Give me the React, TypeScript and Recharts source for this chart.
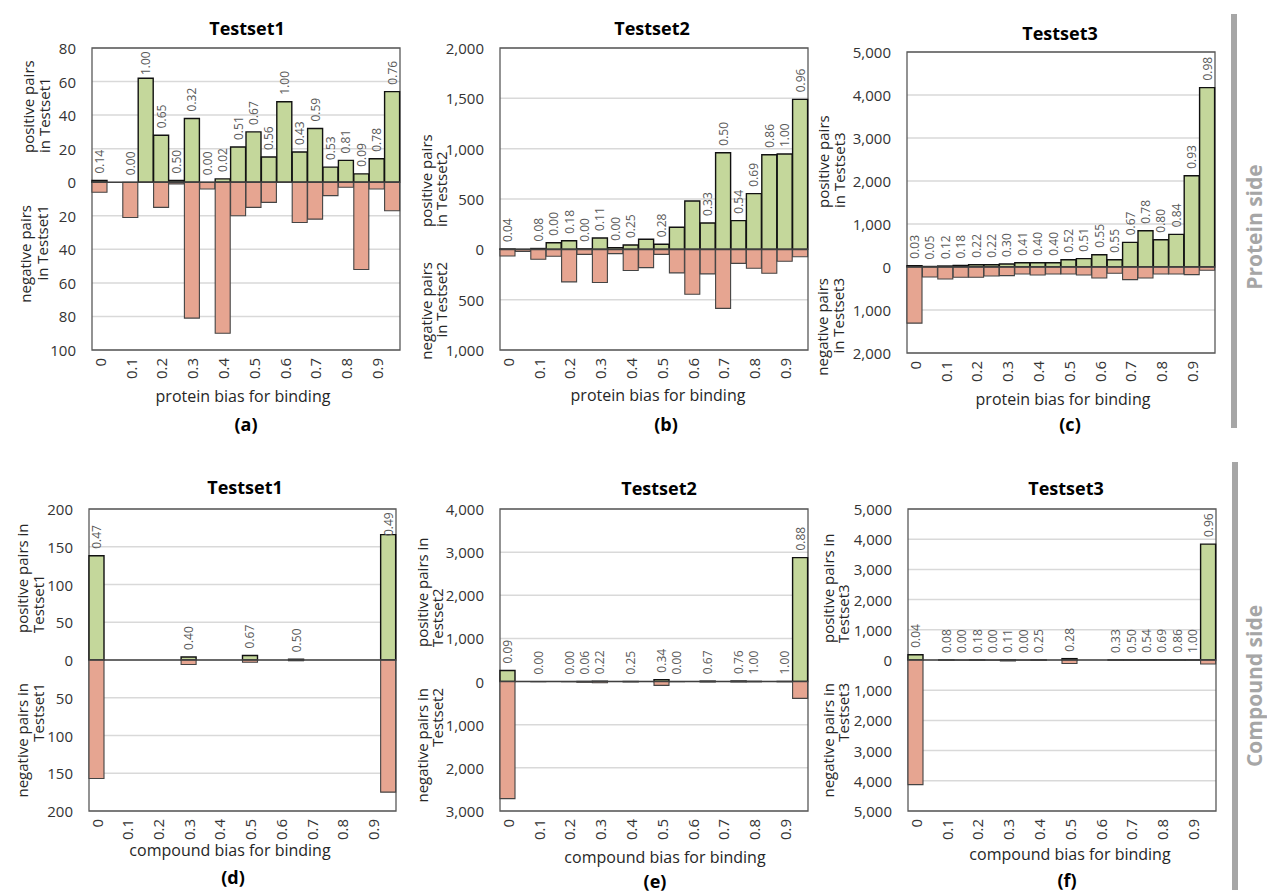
import React from 'react';
import {
  BarChart,
  Bar,
  XAxis,
  YAxis,
  CartesianGrid,
  ReferenceLine,
  ReferenceArea,
  LabelList,
} from 'recharts';

const FONT = "'Open Sans', 'Noto Sans', sans-serif";

// 20 bins of width 0.05, ticks shown every other bin
const bins = ['0', '0.05', '0.1', '0.15', '0.2', '0.25', '0.3', '0.35', '0.4', '0.45',
  '0.5', '0.55', '0.6', '0.65', '0.7', '0.75', '0.8', '0.85', '0.9', '0.95'];
const binTicks = ['0', '0.1', '0.2', '0.3', '0.4', '0.5', '0.6', '0.7', '0.8', '0.9'];

// (a) protein side, Testset1
const posA = [1, 0, 0, 62, 28, 1, 38, 0, 2, 21, 30, 15, 48, 18, 32, 9, 13, 5, 14, 54];
const negA = [6, 0, 21, 0, 15, 1, 81, 4, 90, 20, 15, 12, 0, 24, 22, 8, 3, 52, 4, 17];
const ratioA = ['0.14', null, '0.00', '1.00', '0.65', '0.50', '0.32', '0.00', '0.02', '0.51',
  '0.67', '0.56', '1.00', '0.43', '0.59', '0.53', '0.81', '0.09', '0.78', '0.76'];
const ticksA = [-100, -80, -60, -40, -20, 0, 20, 40, 60, 80];

// (b) protein side, Testset2
const posB = [3, 0, 8, 66, 86, 5, 113, 17, 43, 100, 50, 219, 480, 262, 960, 285, 553, 940, 947, 1490];
const negB = [66, 20, 99, 69, 323, 50, 330, 43, 211, 182, 50, 234, 446, 244, 587, 139, 188, 238, 119, 73];
const ratioB = ['0.04', null, '0.08', '0.00', '0.18', '0.00', '0.11', '0.00', '0.25', null,
  '0.28', null, null, '0.33', '0.50', '0.54', '0.69', '0.86', '1.00', '0.96'];
const ticksB = [-1000, -500, 0, 500, 1000, 1500, 2000];

// (c) protein side, Testset3
const posC = [30, 12, 23, 35, 54, 54, 70, 100, 100, 100, 170, 194, 286, 170, 573, 844, 635, 759, 2121, 4172];
const negC = [1305, 232, 278, 240, 240, 208, 200, 162, 185, 162, 162, 185, 255, 147, 293, 255, 162, 162, 178, 77];
const ratioC = ['0.03', '0.05', '0.12', '0.18', '0.22', '0.22', '0.30', '0.41', '0.40', '0.40',
  '0.52', '0.51', '0.55', '0.55', '0.67', '0.78', '0.80', '0.84', '0.93', '0.98'];
const ticksC = [-2000, -1000, 0, 1000, 2000, 3000, 4000, 5000];

// (d) compound side, Testset1
const posD = [138, 0, 0, 0, 0, 0, 4, 0, 0, 0, 6, 0, 0, 1, 0, 0, 0, 0, 0, 166];
const negD = [157, 0, 0, 0, 0, 0, 6, 0, 0, 0, 3, 0, 0, 1, 0, 0, 0, 0, 0, 175];
const ratioD = ['0.47', null, null, null, null, null, '0.40', null, null, null,
  '0.67', null, null, '0.50', null, null, null, null, null, '0.49'];
const ticksD = [-200, -150, -100, -50, 0, 50, 100, 150, 200];

// (e) compound side, Testset2
const posE = [256, 0, 0, 0, 0, 1, 8, 0, 1, 0, 45, 0, 0, 10, 0, 13, 3, 0, 2, 2874];
const negE = [2714, 0, 3, 0, 3, 15, 28, 0, 3, 0, 88, 2, 0, 5, 0, 4, 0, 0, 0, 390];
const ratioE = ['0.09', null, '0.00', null, '0.00', '0.06', '0.22', null, '0.25', null,
  '0.34', '0.00', null, '0.67', null, '0.76', '1.00', null, '1.00', '0.88'];
const ticksE = [-3000, -2000, -1000, 0, 1000, 2000, 3000, 4000];

// (f) compound side, Testset3
const posF = [172, 0, 1, 0, 2, 0, 4, 0, 1, 0, 45, 0, 0, 3, 2, 7, 9, 6, 3, 3838];
const negF = [4126, 0, 11, 4, 9, 3, 32, 2, 3, 0, 115, 0, 0, 6, 2, 6, 4, 1, 0, 133];
const ratioF = ['0.04', null, '0.08', '0.00', '0.18', '0.00', '0.11', '0.00', '0.25', null,
  '0.28', null, null, '0.33', '0.50', '0.54', '0.69', '0.86', '1.00', '0.96'];
const ticksF = [-5000, -4000, -3000, -2000, -1000, 0, 1000, 2000, 3000, 4000, 5000];

const panels = [
  { id: 'a', pos: posA, neg: negA, ratio: ratioA, ticks: ticksA, plot: [92, 48, 400, 350] },
  { id: 'b', pos: posB, neg: negB, ratio: ratioB, ticks: ticksB, plot: [500, 48, 808, 350] },
  { id: 'c', pos: posC, neg: negC, ratio: ratioC, ticks: ticksC, plot: [907, 52, 1215, 353] },
  { id: 'd', pos: posD, neg: negD, ratio: ratioD, ticks: ticksD, plot: [89, 509, 396, 811] },
  { id: 'e', pos: posE, neg: negE, ratio: ratioE, ticks: ticksE, plot: [500, 509, 808, 811] },
  { id: 'f', pos: posF, neg: negF, ratio: ratioF, ticks: ticksF, plot: [908, 509, 1216, 811] },
];

const texts = [
  { title: 'Testset1', t: [247, 28], xt: 'protein bias for binding', xl: [243, 396], cap: [246, 424],
    pos: ['positive pairs', 'in Testset1'], px: [28, 44], pb: 153,
    neg: ['negative pairs', 'in Testset1'], nx: [25, 42], nt: 205 },
  { title: 'Testset2', t: [652, 28], xt: 'protein bias for binding', xl: [658, 395], cap: [666, 424],
    pos: ['positive pairs', 'in Testset2'], px: [426, 441], pb: 227,
    neg: ['negative pairs', 'in Testset2'], nx: [426, 441], nt: 262 },
  { title: 'Testset3', t: [1060, 33], xt: 'protein bias for binding', xl: [1063, 399], cap: [1070, 424],
    pos: ['positive pairs', 'in Testset3'], px: [823, 839], pb: 208,
    neg: ['negative pairs', 'in Testset3'], nx: [822, 838], nt: 278 },
  { title: 'Testset1', t: [245, 487], xt: 'compound bias for binding', xl: [230, 850], cap: [233, 877],
    pos: ['positive pairs in', 'Testset1'], px: [22, 38], pb: 633,
    neg: ['negative pairs in', 'Testset1'], nx: [22, 38], nt: 683 },
  { title: 'Testset2', t: [659, 488], xt: 'compound bias for binding', xl: [665, 857], cap: [655, 881],
    pos: ['positive pairs in', 'Testset2'], px: [422, 437], pb: 647,
    neg: ['negative pairs in', 'Testset2'], nx: [422, 437], nt: 688 },
  { title: 'Testset3', t: [1066, 488], xt: 'compound bias for binding', xl: [1070, 854], cap: [1067, 880],
    pos: ['positive pairs in', 'Testset3'], px: [828, 843], pb: 643,
    neg: ['negative pairs in', 'Testset3'], nx: [828, 843], nt: 683 },
];

const PAD_L = 90;
const PAD_T = 10;
const PAD_R = 10;
const PAD_B = 40;

const XTick = (props: any) => {
  const { x, y, payload } = props;
  if (!binTicks.includes(String(payload.value))) return null;
  return (
    <text x={x} y={y} transform={`rotate(-90 ${x} ${y})`} textAnchor='end'
      dominantBaseline='central' fontSize={15} fill='#333' fontFamily={FONT}>
      {payload.value}
    </text>
  );
};

const YTick = (props: any) => {
  const { x, y, payload } = props;
  return (
    <text x={x} y={y} textAnchor='end' dominantBaseline='central' fontSize={15}
      fill='#333' fontFamily={FONT}>
      {Math.abs(payload.value).toLocaleString('en-US')}
    </text>
  );
};

// rotated ratio label sitting above the positive bar (or above zero when there is none)
const ratioLabel = (props: any) => {
  const { value } = props;
  if (value === null || value === undefined || value === '') return null;
  const vb = props.viewBox || {};
  const x = Number(props.x ?? vb.x);
  const y = Number(props.y ?? vb.y);
  const w = Number(props.width ?? vb.width);
  const h = Number(props.height ?? vb.height ?? 0);
  const top = Math.min(y, y + h);
  let sy = top - 7;
  const len = 24;
  if (sy - len < PAD_T + 3) sy = PAD_T + 3 + len;
  const cx = x + w / 2;
  return (
    <text x={cx} y={sy} transform={`rotate(-90 ${cx} ${sy})`} textAnchor='start'
      dominantBaseline='central' fontSize={12} fill='#595959' fontFamily={FONT}>
      {value}
    </text>
  );
};

const Panel = ({ p }: { p: typeof panels[number] }) => {
  const [x0, y0, x1, y1] = p.plot;
  const data = bins.map((bin, i) => ({
    bin,
    pos: p.pos[i],
    neg: -p.neg[i],
    ratio: p.pos[i] > 0 ? p.ratio[i] : null,
    ratioZero: p.pos[i] > 0 ? null : p.ratio[i],
  }));
  const lo = p.ticks[0];
  const hi = p.ticks[p.ticks.length - 1];
  return (
    <div style={{ position: 'absolute', left: x0 - PAD_L, top: y0 - PAD_T }}>
      <BarChart
        width={x1 - x0 + PAD_L + PAD_R}
        height={y1 - y0 + PAD_T + PAD_B}
        data={data}
        stackOffset='sign'
        barCategoryGap={0}
        barGap={0}
        margin={{ top: PAD_T, right: PAD_R, left: 0, bottom: 0 }}
      >
        <CartesianGrid vertical={false} stroke='#d9d9d9' strokeWidth={1.5} />
        <XAxis dataKey='bin' interval={0} height={PAD_B} tickSize={0} tickMargin={8}
          axisLine={false} tickLine={false} tick={XTick} />
        <YAxis type='number' domain={[lo, hi]} ticks={p.ticks} width={PAD_L} tickSize={0}
          tickMargin={16} axisLine={false} tickLine={false} tick={YTick} />
        <Bar dataKey='pos' stackId='s' fill='#c4d79b' stroke='#111' strokeWidth={1.4}
          isAnimationActive={false}>
          <LabelList dataKey='ratio' content={ratioLabel} />
        </Bar>
        <Bar dataKey='neg' stackId='s' fill='#e6a591' stroke='#444' strokeWidth={1.1}
          isAnimationActive={false}>
          <LabelList dataKey='ratioZero' content={ratioLabel} />
        </Bar>
        <ReferenceLine y={0} stroke='#404040' strokeWidth={1.6} />
        <ReferenceArea y1={lo} y2={hi} fill='none' stroke='#595959' strokeWidth={1.3}
          ifOverflow='visible' />
      </BarChart>
    </div>
  );
};

const App: React.FC = () => {
  return (
    <div style={{ position: 'absolute', left: 0, top: 0, width: 1267, height: 895, background: '#fff' }}>
      {panels.map((p) => (
        <Panel key={p.id} p={p} />
      ))}
      <svg width={1267} height={895} style={{ position: 'absolute', left: 0, top: 0, pointerEvents: 'none' }}
        fontFamily={FONT}>
        {texts.map((t, i) => (
          <g key={i}>
            <text x={t.t[0]} y={t.t[1]} textAnchor='middle' dominantBaseline='central'
              fontSize={18} fontWeight={700} fill='#000'>{t.title}</text>
            <text x={t.xl[0]} y={t.xl[1]} textAnchor='middle' dominantBaseline='central'
              fontSize={16} fill='#262626'>{t.xt}</text>
            <text x={t.cap[0]} y={t.cap[1]} textAnchor='middle' dominantBaseline='central'
              fontSize={18} fontWeight={700} fill='#000'>({panels[i].id})</text>
            {t.pos.map((line, j) => (
              <text key={'p' + j} x={t.px[j]} y={t.pb} transform={`rotate(-90 ${t.px[j]} ${t.pb})`}
                textAnchor='start' dominantBaseline='central' fontSize={15} fill='#262626'>{line}</text>
            ))}
            {t.neg.map((line, j) => (
              <text key={'n' + j} x={t.nx[j]} y={t.nt} transform={`rotate(-90 ${t.nx[j]} ${t.nt})`}
                textAnchor='end' dominantBaseline='central' fontSize={15} fill='#262626'>{line}</text>
            ))}
          </g>
        ))}
        <rect x={1231} y={14} width={6} height={414} fill='#a6a6a6' />
        <rect x={1232} y={462} width={6} height={428} fill='#a6a6a6' />
        <text x={1254} y={227} transform='rotate(-90 1254 227)' textAnchor='middle'
          dominantBaseline='central' fontSize={21} fontWeight={700} fill='#a6a6a6'>Protein side</text>
        <text x={1254} y={686} transform='rotate(-90 1254 686)' textAnchor='middle'
          dominantBaseline='central' fontSize={21} fontWeight={700} fill='#a6a6a6'>Compound side</text>
      </svg>
    </div>
  );
};

export default App;
